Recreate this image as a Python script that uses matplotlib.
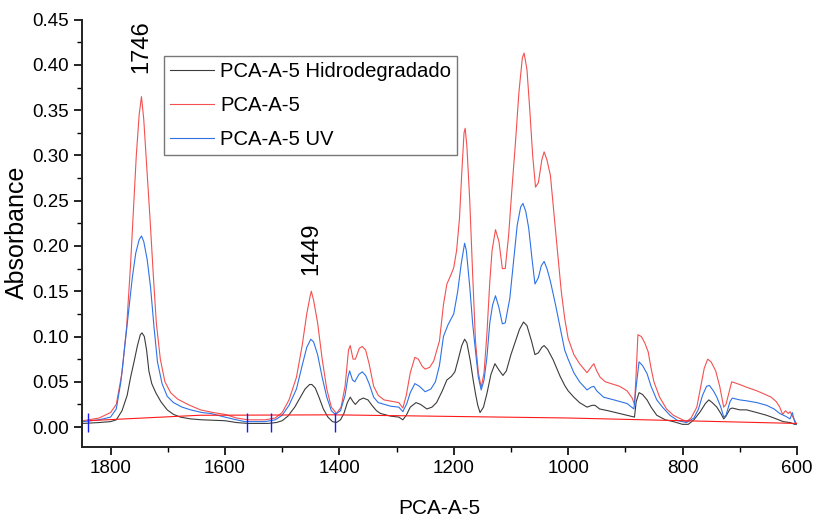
import numpy as np
import matplotlib.pyplot as plt

plt.rcParams['font.family'] = ['Liberation Sans', 'DejaVu Sans']

# wavenumber (cm-1) / absorbance
wn_hidro = [1848, 1820, 1800, 1790, 1780, 1771, 1765, 1759, 1753, 1748, 1745, 1741, 1737, 1733,
            1728, 1721, 1712, 1701, 1690, 1678, 1660, 1640, 1600, 1580, 1560, 1525, 1510, 1500,
            1490, 1478, 1468, 1460, 1452, 1448, 1442, 1435, 1428, 1420, 1412, 1405, 1398, 1392,
            1386, 1381, 1376, 1372, 1365, 1358, 1350, 1343, 1335, 1328, 1310, 1296, 1289, 1283,
            1276, 1266, 1258, 1247, 1238, 1230, 1220, 1212, 1204, 1198, 1192, 1186, 1181, 1177,
            1171, 1166, 1162, 1158, 1154, 1148, 1142, 1135, 1128, 1121, 1114, 1108, 1100, 1092,
            1085, 1078, 1072, 1064, 1058, 1052, 1046, 1042, 1036, 1026, 1020, 1014, 1006, 1000,
            990, 980, 967, 958, 953, 945, 930, 910, 897, 884, 881, 876, 870, 862, 855, 845, 830,
            816, 800, 790, 780, 769, 760, 754, 748, 740, 733, 728, 724, 717, 713, 700, 688, 670,
            653, 640, 624, 612, 604, 601]
abs_hidro = [0.004, 0.005, 0.006, 0.008, 0.018, 0.035, 0.055, 0.072, 0.090, 0.102, 0.104, 0.100,
             0.085, 0.062, 0.048, 0.038, 0.028, 0.019, 0.014, 0.011, 0.009, 0.008, 0.007, 0.005,
             0.004, 0.004, 0.005, 0.007, 0.012, 0.022, 0.033, 0.042, 0.047, 0.047, 0.043, 0.032,
             0.020, 0.011, 0.006, 0.005, 0.008, 0.015, 0.027, 0.033, 0.028, 0.025, 0.030, 0.032,
             0.030, 0.024, 0.018, 0.015, 0.012, 0.011, 0.008, 0.013, 0.022, 0.027, 0.025, 0.020,
             0.022, 0.027, 0.040, 0.052, 0.056, 0.061, 0.075, 0.090, 0.097, 0.093, 0.073, 0.052,
             0.037, 0.024, 0.016, 0.022, 0.037, 0.058, 0.070, 0.063, 0.057, 0.062, 0.080, 0.095,
             0.108, 0.116, 0.112, 0.095, 0.080, 0.082, 0.088, 0.090, 0.086, 0.074, 0.065, 0.056,
             0.046, 0.040, 0.033, 0.027, 0.022, 0.024, 0.024, 0.020, 0.018, 0.015, 0.013, 0.011,
             0.028, 0.038, 0.036, 0.030, 0.022, 0.013, 0.008, 0.006, 0.003, 0.003, 0.008, 0.017,
             0.026, 0.030, 0.027, 0.022, 0.015, 0.009, 0.012, 0.020, 0.021, 0.019, 0.019, 0.016,
             0.013, 0.010, 0.006, 0.005, 0.003, 0.003]

wn_pca = [1848, 1820, 1800, 1790, 1780, 1772, 1765, 1760, 1755, 1750, 1746, 1742, 1737, 1731,
          1725, 1720, 1713, 1705, 1695, 1683, 1665, 1643, 1620, 1600, 1580, 1560, 1530, 1512,
          1500, 1488, 1475, 1465, 1457, 1451, 1449, 1445, 1438, 1430, 1422, 1414, 1405, 1397,
          1390, 1384, 1381, 1376, 1372, 1365, 1360, 1354, 1348, 1340, 1332, 1322, 1305, 1296,
          1289, 1283, 1276, 1268, 1262, 1255, 1250, 1242, 1235, 1225, 1218, 1212, 1205, 1200,
          1195, 1190, 1186, 1182, 1180, 1177, 1172, 1167, 1162, 1157, 1152, 1147, 1142, 1137,
          1133, 1127, 1121, 1115, 1110, 1104, 1098, 1092, 1086, 1080, 1077, 1072, 1067, 1062,
          1057, 1052, 1046, 1042, 1037, 1031, 1024, 1018, 1012, 1006, 1000, 990, 980, 967, 960,
          955, 950, 944, 935, 925, 910, 897, 888, 884, 881, 878, 872, 866, 860, 855, 850, 840,
          828, 816, 800, 793, 785, 775, 768, 762, 756, 750, 742, 735, 728, 724, 718, 714, 700,
          688, 670, 659, 645, 636, 630, 625, 620, 615, 612, 606, 601]
abs_pca = [0.007, 0.010, 0.016, 0.025, 0.060, 0.110, 0.180, 0.240, 0.300, 0.345, 0.365, 0.340,
           0.290, 0.230, 0.165, 0.115, 0.075, 0.050, 0.038, 0.031, 0.025, 0.019, 0.016, 0.014,
           0.010, 0.008, 0.008, 0.010, 0.016, 0.030, 0.055, 0.090, 0.125, 0.145, 0.150, 0.140,
           0.115, 0.075, 0.042, 0.022, 0.015, 0.022, 0.045, 0.085, 0.090, 0.075, 0.075, 0.087,
           0.089, 0.085, 0.070, 0.045, 0.035, 0.030, 0.028, 0.027, 0.021, 0.035, 0.060, 0.077,
           0.075, 0.067, 0.064, 0.066, 0.073, 0.095, 0.135, 0.158, 0.168, 0.176, 0.195, 0.230,
           0.280, 0.325, 0.330, 0.310, 0.250, 0.170, 0.095, 0.060, 0.044, 0.060, 0.103, 0.160,
           0.195, 0.218, 0.205, 0.175, 0.175, 0.212, 0.265, 0.315, 0.370, 0.408, 0.413, 0.395,
           0.350, 0.300, 0.265, 0.270, 0.295, 0.304, 0.295, 0.278, 0.230, 0.190, 0.150, 0.120,
           0.098, 0.080, 0.070, 0.060, 0.066, 0.070, 0.062, 0.055, 0.050, 0.048, 0.045, 0.040,
           0.032, 0.025, 0.060, 0.102, 0.100, 0.093, 0.083, 0.065, 0.050, 0.033, 0.020, 0.013,
           0.008, 0.006, 0.010, 0.022, 0.045, 0.065, 0.075, 0.072, 0.062, 0.045, 0.022, 0.025,
           0.040, 0.050, 0.047, 0.044, 0.040, 0.037, 0.033, 0.028, 0.022, 0.014, 0.018, 0.015,
           0.017, 0.010, 0.004]

wn_uv = [1848, 1820, 1800, 1790, 1782, 1775, 1768, 1762, 1756, 1750, 1746, 1742, 1736, 1730,
         1724, 1718, 1710, 1701, 1690, 1675, 1660, 1640, 1625, 1600, 1580, 1565, 1530, 1512,
         1500, 1488, 1475, 1465, 1457, 1450, 1445, 1438, 1430, 1422, 1414, 1407, 1398, 1390,
         1385, 1382, 1377, 1373, 1366, 1360, 1354, 1348, 1340, 1332, 1310, 1296, 1289, 1282,
         1276, 1268, 1260, 1250, 1240, 1232, 1225, 1218, 1210, 1200, 1193, 1187, 1181, 1178,
         1172, 1167, 1162, 1157, 1152, 1147, 1142, 1137, 1132, 1127, 1121, 1115, 1110, 1102,
         1095, 1089, 1083, 1079, 1074, 1069, 1063, 1058, 1052, 1047, 1042, 1037, 1031, 1022,
         1014, 1006, 1000, 990, 980, 967, 960, 955, 950, 938, 920, 897, 885, 881, 876, 870, 862,
         855, 845, 835, 822, 808, 793, 780, 772, 765, 758, 753, 746, 740, 733, 728, 724, 717,
         713, 700, 688, 670, 653, 640, 630, 620, 612, 608, 604, 601]
abs_uv = [0.006, 0.008, 0.011, 0.020, 0.050, 0.090, 0.130, 0.165, 0.192, 0.207, 0.211, 0.205,
          0.185, 0.154, 0.110, 0.072, 0.048, 0.034, 0.027, 0.022, 0.019, 0.016, 0.015, 0.011,
          0.008, 0.006, 0.006, 0.008, 0.013, 0.024, 0.042, 0.068, 0.088, 0.097, 0.094, 0.080,
          0.055, 0.033, 0.018, 0.014, 0.018, 0.035, 0.055, 0.062, 0.052, 0.050, 0.058, 0.061,
          0.057, 0.048, 0.033, 0.027, 0.023, 0.022, 0.017, 0.026, 0.038, 0.048, 0.045, 0.039,
          0.042, 0.050, 0.068, 0.100, 0.113, 0.125, 0.150, 0.180, 0.203, 0.195, 0.155, 0.115,
          0.084, 0.055, 0.041, 0.052, 0.077, 0.115, 0.135, 0.145, 0.132, 0.114, 0.115, 0.142,
          0.185, 0.223, 0.243, 0.247, 0.238, 0.220, 0.185, 0.158, 0.165, 0.178, 0.183, 0.175,
          0.161, 0.135, 0.110, 0.085, 0.075, 0.060, 0.050, 0.041, 0.044, 0.045, 0.040, 0.033,
          0.030, 0.026, 0.020, 0.045, 0.072, 0.068, 0.059, 0.045, 0.030, 0.022, 0.013, 0.007,
          0.005, 0.010, 0.020, 0.035, 0.045, 0.046, 0.040, 0.033, 0.022, 0.011, 0.013, 0.028,
          0.032, 0.030, 0.029, 0.027, 0.024, 0.020, 0.015, 0.012, 0.009, 0.016, 0.006, 0.003]

# baseline drawn under the spectra and the blue limit markers
wn_base = [1840, 1645, 1410, 1000, 800, 601]
abs_base = [0.007, 0.013, 0.0135, 0.010, 0.007, 0.004]
wn_marks = [1840, 1562, 1519, 1407]

fig, ax = plt.subplots(figsize=(8.14, 5.24), dpi=100)
fig.subplots_adjust(left=0.1007, right=0.979, bottom=0.147, top=0.966)

ax.plot(wn_hidro, abs_hidro, color='#3c3c3c', lw=0.8, label='PCA-A-5 Hidrodegradado')
ax.plot(wn_pca, abs_pca, color='#f45050', lw=0.8, label='PCA-A-5')
ax.plot(wn_uv, abs_uv, color='#2f72e6', lw=0.8, label='PCA-A-5 UV')
ax.plot(wn_base, abs_base, color='#ff1a1a', lw=0.8)
ax.vlines(wn_marks, -0.006, 0.015, color='#1a1aff', lw=1.0)

ax.text(1746, 0.42, '1746', rotation=90, ha='center', va='center', fontsize=17)
ax.text(1449, 0.197, '1449', rotation=90, ha='center', va='center', fontsize=17)

ax.set_xlim(1850, 600)
ax.set_ylim(-0.022, 0.452)
ax.set_xticks([1800, 1600, 1400, 1200, 1000, 800, 600])
ax.set_xticks(np.arange(1700, 600, -200), minor=True)
ax.set_yticks(np.arange(0, 0.451, 0.05))
ax.set_yticks(np.arange(0.025, 0.45, 0.05), minor=True)
ax.yaxis.set_major_formatter(plt.FormatStrFormatter('%.2f'))
ax.tick_params(which='major', direction='out', length=6, width=1.2, labelsize=13.5)
ax.tick_params(which='minor', direction='out', length=3.5, width=1.0)

for s in ['top', 'right']:
    ax.spines[s].set_visible(False)
for s in ['left', 'bottom']:
    ax.spines[s].set_linewidth(1.4)
    ax.spines[s].set_color('#222222')
ax.spines['left'].set_bounds(-0.022, 0.45)

ax.set_xlabel('PCA-A-5', fontsize=15, labelpad=16)
ax.set_ylabel('Absorbance', fontsize=18, labelpad=2)

leg = ax.legend(loc='upper left', bbox_to_anchor=(0.1147, 0.9116), borderaxespad=0,
                fontsize=14.6, fancybox=False, frameon=True, handlelength=2.15,
                handletextpad=0.33, labelspacing=0.75, borderpad=0.3)
leg.get_frame().set_edgecolor('#555555')
leg.get_frame().set_linewidth(1.0)

plt.savefig('out.png')
